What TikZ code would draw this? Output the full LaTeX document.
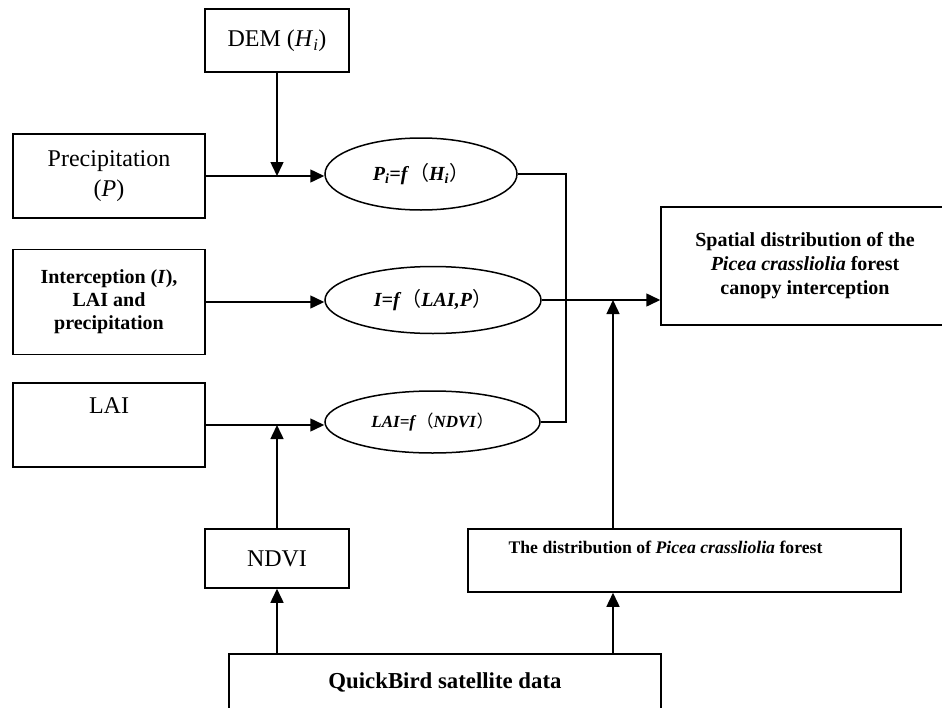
\documentclass[tikz,border=0pt]{standalone}
\usepackage{fontspec}
\setmainfont{Liberation Serif}
\newfontfamily\cjk{Noto Sans CJK SC}
\usetikzlibrary{arrows.meta,shapes.geometric}
\newcommand{\tbi}[1]{\textbf{\textit{#1}}}

\begin{document}
\begin{tikzpicture}[x=1pt,y=-1pt,line width=1.5pt,>={Triangle[length=14pt,width=13pt]},
  box/.style={draw,inner sep=0pt,align=center,font=\fontsize{24}{30}\selectfont},
  bbox/.style={box,font=\bfseries\fontsize{20}{23}\selectfont},
  ell/.style={draw,ellipse,inner sep=0pt,font=\fontsize{20}{22}\selectfont}]
  \useasboundingbox (0,0) rectangle (942,707);
  \clip (0,0) rectangle (942,707);
  \node[box,minimum width=144,minimum height=63] (DEM) at (277,40.5) {DEM (\textit{H}\textsubscript{\textit{i}})};
  \node[box,minimum width=192,minimum height=84] (Pr) at (109,176) {Precipitation\\(\textit{P})};
  \node[bbox,minimum width=192,minimum height=105] (Ic) at (109,302) {Interception (\textit{I}),\\LAI and\\precipitation};
  \node[box,minimum width=192,minimum height=84] (La) at (109,425) {LAI\\\strut};
  \node[box,minimum width=144,minimum height=59] (Nd) at (277,558.5) {NDVI};
  \node[ell,minimum width=192,minimum height=72] (E1) at (421,174) {\tbi{P\textsubscript{i}=f}{\cjk （}\tbi{H\textsubscript{i}}{\cjk ）}};
  \node[ell,minimum width=216,minimum height=67] (E2) at (433,300) {\tbi{I=f}{\cjk （}\tbi{LAI,P}{\cjk ）}};
  \node[ell,minimum width=215,minimum height=62,font=\fontsize{17}{19}\selectfont] (E3) at (432.5,422) {\tbi{LAI=f}{\cjk （}\tbi{NDVI}{\cjk ）}};
  \node[bbox,minimum width=288,minimum height=118,font=\bfseries\fontsize{20}{24}\selectfont] (Sp) at (805,266) {Spatial distribution of the\\\textit{Picea crassliolia} forest\\canopy interception};
  \node[bbox,minimum width=433,minimum height=63,font=\bfseries\fontsize{17.7}{20}\selectfont] (Di) at (684.5,560.5) {The distribution of \textit{Picea crassliolia} forest\hspace*{38pt}\\\strut};
  \node[bbox,minimum width=432,minimum height=56,font=\bfseries\fontsize{22.8}{26}\selectfont] (QB) at (445,682) {QuickBird satellite data};
  \coordinate (j2) at (613,300);
  \draw[->] (DEM.south) -- (DEM.south |- Pr.east);
  \draw[->] (Pr.east) -- (Pr.east -| E1.west);
  \draw[->] (Ic.east) -- (Ic.east -| E2.west);
  \draw[->] (La.east) -- (La.east -| E3.west);
  \draw[->] (Nd.north) -- (Nd.north |- La.east);
  \draw[->] (Nd.south |- QB.north) -- (Nd.south);
  \draw (E1.east) -- ++(48,0) |- (E3.east);
  \draw[->] (E2.east) -- (E2.east -| Sp.west);
  \draw[->] (j2 |- Di.north) -- (j2);
  \draw[->] (j2 |- QB.north) -- (j2 |- Di.south);
\end{tikzpicture}
\end{document}
